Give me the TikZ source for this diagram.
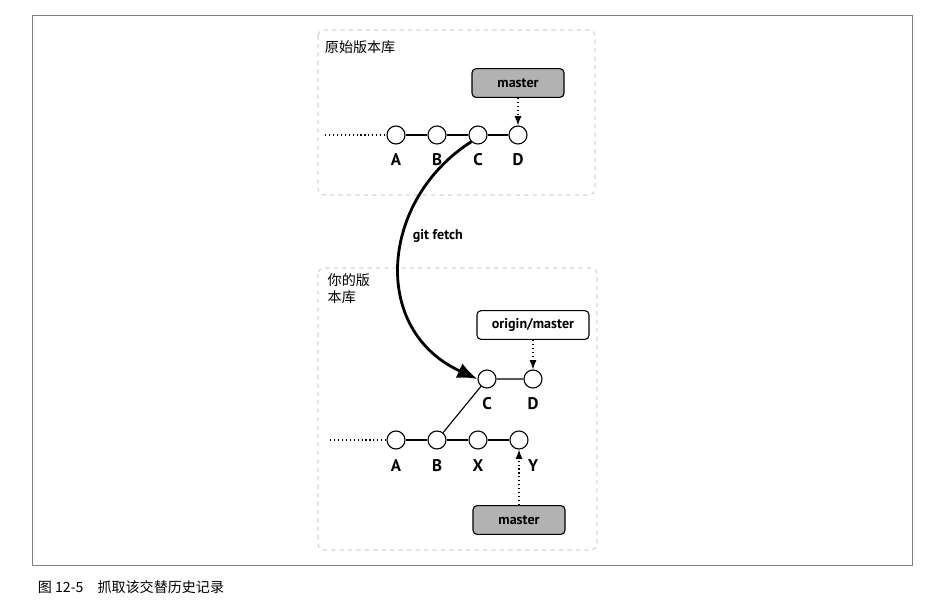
\documentclass[tikz,border=0pt]{standalone}
\usepackage{fontspec}
\setmainfont{PT Sans}
\newfontfamily\cjk{Noto Sans CJK SC}
\usetikzlibrary{arrows.meta}

\begin{document}
\begin{tikzpicture}[x=0.025cm, y=-0.025cm,
    commit/.style={draw, circle, thick, fill=white, minimum size=0.45cm, inner sep=0pt},
    lbl/.style={font=\bfseries\large},
    branch/.style={draw, thick, rounded corners=3pt, minimum height=0.72cm, font=\bfseries},
    repo/.style={draw=gray!60, dashed, rounded corners=4pt}]
    \useasboundingbox (0,0) rectangle (949,608);
    % Frame
    \draw[gray] (32,15) rectangle (912,565);
    \draw[repo] (318,30) rectangle (595,195);
    \draw[repo] (318,268) rectangle (597,550);
    \node[anchor=west, font=\cjk] (orig) at (320,47) {原始版本库};
    \node[anchor=north west, font=\cjk, align=left, inner sep=1pt] (mine) at (326,272) {你的版\\本库};
    \node[anchor=west, font=\cjk] (cap) at (33,587) {图 12-5\quad 抓取该交替历史记录};

    % Original repository
    \coordinate (oS) at (325,135);
    \node[commit] (oA) at (396,135) {};
    \node[commit] (oB) at (437,135) {};
    \node[commit] (oC) at (478,135) {};
    \node[commit] (oD) at (518,135) {};
    \draw[thick, dotted] (oS) -- (oA);
    \draw[thick] (oA) -- (oB) -- (oC) -- (oD);
    \node[lbl] at (396,160) {A};
    \node[lbl] at (437,160) {B};
    \node[lbl] at (478,160) {C};
    \node[lbl] at (518,160) {D};
    \node[branch, fill=gray!60, minimum width=2.3cm] (omaster) at (518,83) {master};
    \draw[thick, dotted, -{Latex}] (omaster) -- (oD);

    % Your repository
    \coordinate (yS) at (330,440);
    \node[commit] (yA) at (396,440) {};
    \node[commit] (yB) at (437,440) {};
    \node[commit] (yX) at (478,440) {};
    \node[commit] (yY) at (519,440) {};
    \node[commit] (yC) at (487,379) {};
    \node[commit] (yD) at (533,379) {};
    \draw[thick, dotted] (yS) -- (yA);
    \draw[thick] (yA) -- (yB) -- (yX) -- (yY);
    \draw[thick] (yB) -- (yC) -- (yD);
    \node[lbl] at (396,466) {A};
    \node[lbl] at (437,466) {B};
    \node[lbl] at (478,466) {X};
    \node[lbl] at (533,466) {Y};
    \node[lbl] at (487,404) {C};
    \node[lbl] at (533,404) {D};
    \node[branch, fill=white, minimum width=2.8cm] (origin) at (533,325) {origin/master};
    \draw[thick, dotted, -{Latex}] (origin) -- (yD);
    \node[branch, fill=gray!60, minimum width=2.3cm] (ymaster) at (519,520) {master};
    \draw[thick, dotted, -{Latex}] (ymaster) -- (yY);

    % Fetch
    \draw[line width=2pt, -{Latex[length=5mm,width=4mm]}] (oC.south west) .. controls (380,200) and (370,330) .. (yC.west)
        node[pos=0.4, right, font=\bfseries, inner sep=6pt] {git fetch};
\end{tikzpicture}
\end{document}
